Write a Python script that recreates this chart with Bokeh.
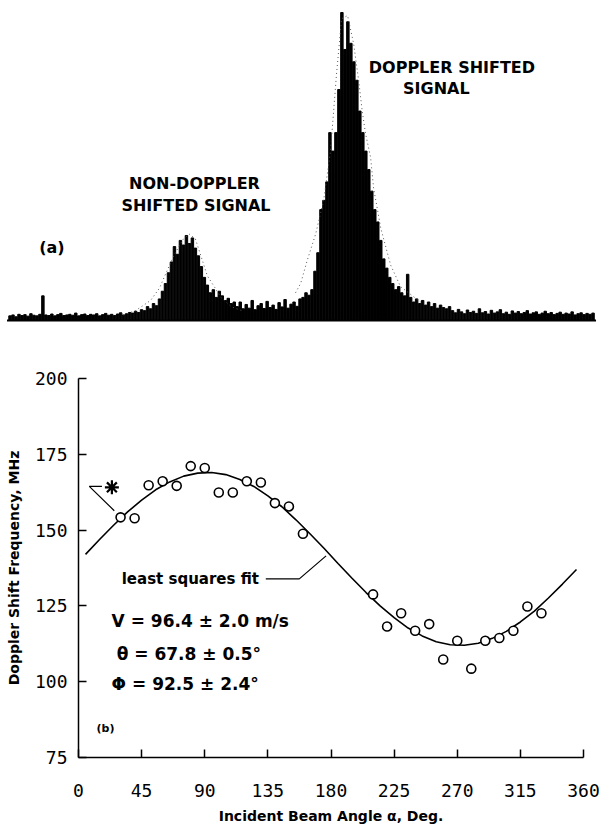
from bokeh.plotting import figure
from bokeh.models import ColumnDataSource, FixedTicker, Range1d
from bokeh.core.properties import value
from bokeh.embed import file_html
from bokeh.resources import INLINE

# ---------------- Panel (a): spectrum (relative intensity per channel) ----------------
spectrum = [
    1.5, 1.8, 1.2, 2.0, 1.6, 1.9, 1.4, 2.2, 1.7, 1.5, 2.0,
    8.0,
    1.8, 1.6, 2.1, 1.5, 1.9, 2.3, 1.6, 1.8, 2.0,
    1.7, 2.4, 1.5, 1.9, 2.1, 1.6, 2.0, 1.8, 2.2, 1.5,
    1.9, 2.3, 1.7, 2.0, 1.6, 2.1, 2.5, 1.8, 2.2, 2.6,
    2.4, 3.0, 2.6,
    3.5, 3.2, 4.5, 3.8, 5.5, 4.8, 7.0,
    9.5, 12.0, 15.5, 19.0,
    24.0, 21.5, 26.0, 24.5, 27.6, 25.0, 26.8, 23.5,
    21.0, 17.5, 14.0, 11.5,
    9.0, 10.0, 7.5, 9.5, 8.0,
    6.5, 7.2, 5.5, 6.0,
    4.5, 6.0, 3.8, 5.2, 4.0, 6.5, 3.5, 4.8, 5.5, 3.9, 6.2, 4.2, 5.0, 3.6, 5.8, 4.4,
    6.8, 4.0, 5.3, 6.0, 4.6, 7.0,
    7.5, 9.0, 8.2, 10.0,
    16.0, 22.0, 36.0, 39.0, 45.0, 61.0, 55.0, 61.0, 75.0,
    100.0, 88.0, 97.0,
    90.0, 84.0, 78.0, 68.0,
    61.0, 55.0, 49.0, 42.0, 36.0, 32.0,
    26.0, 20.0, 17.0, 14.0, 12.0,
    10.0, 11.0, 9.0, 8.0, 15.0,
    7.5, 6.0, 7.0, 5.5, 6.5, 5.0, 6.0, 4.5, 5.5, 4.0, 5.0, 4.2, 3.8, 4.5,
    3.2, 2.5, 3.6, 2.8, 2.2, 3.4, 2.6, 3.0, 2.3, 3.8, 2.5, 2.9, 2.1, 3.3, 2.4, 2.8,
    3.5, 2.2, 2.7, 2.0, 3.1, 2.4, 2.9, 2.2, 2.6, 3.2, 2.1, 2.5, 2.8, 2.0, 2.4, 3.0,
    2.2, 2.6, 1.9, 2.3, 2.7, 2.0, 2.4, 2.1, 2.8, 1.8, 2.2, 2.5, 1.9, 2.3, 2.0, 2.4,
]
channels = list(range(len(spectrum)))

# dotted envelopes (fitted profiles)
nd_env_ch = [38, 42, 47, 50, 52, 55, 58, 60, 62, 64, 66, 68.5, 70.5, 74, 78]
nd_env_val = [1.8, 3.2, 6.5, 10.5, 15.0, 21.5, 26.5, 28.0, 26.5, 20.5, 14.5, 10.7, 7.5, 4.5, 3.0]
d_env_ch = [95.5, 97.2, 99.4, 102.2, 104.9, 107.2, 109.2, 110.9, 112.9, 114.9, 116.6,
            117.8, 118.9, 120.6, 121.6, 124.0, 127.3, 130.6, 137.3]
d_env_val = [9.0, 12.0, 19.5, 28.0, 39.0, 55.0, 80.0, 98.0, 99.0, 90.0, 78.0,
             68.0, 60.7, 53.0, 43.0, 30.0, 18.0, 11.0, 6.0]

# ---------------- Panel (b): Doppler shift vs incident beam angle ----------------
angle = [30, 40, 50, 60, 70, 80, 90, 100, 110, 120, 130, 140, 150, 160,
         210, 220, 230, 240, 250, 260, 270, 280, 290, 300, 310, 320, 330]
freq = [154.2, 153.9, 164.8, 166.1, 164.6, 171.1, 170.5, 162.4, 162.4, 166.1, 165.7, 158.9, 157.8, 148.8,
        128.8, 118.2, 122.6, 116.8, 119.0, 107.3, 113.5, 104.3, 113.5, 114.4, 116.8, 124.8, 122.6]

fit_angle = [5, 15, 25, 35, 45, 55, 65, 75, 85, 95, 105, 115, 125, 135, 145, 155, 165, 175,
             185, 195, 205, 215, 225, 235, 245, 255, 265, 275, 285, 295, 305, 315, 325, 335, 345, 355]
fit_freq = [142.0, 146.9, 151.6, 156.0, 159.9, 163.3, 165.9, 167.8, 168.8, 169.0, 168.3, 166.7,
            164.4, 161.3, 157.7, 153.4, 148.8, 144.0, 139.0, 134.1, 129.4, 125.0, 121.1, 117.7,
            115.1, 113.2, 112.2, 112.0, 112.7, 114.3, 116.6, 119.7, 123.3, 127.6, 132.2, 137.0]

x_ticks = [0, 45, 90, 135, 180, 225, 270, 315, 360]
y_ticks = [75, 100, 125, 150, 175, 200]

BOLD = value("DejaVu Sans")

# ---------------- top figure ----------------
top = figure(width=602, height=340, output_backend="svg", toolbar_location=None,
             x_range=Range1d(-3.18, 198.16), y_range=Range1d(-6.5, 103.9),
             min_border=0, min_border_left=0, min_border_right=0,
             min_border_top=0, min_border_bottom=0)
top.axis.visible = False
top.grid.visible = False
top.outline_line_color = None

top.vbar(x=channels, top=spectrum, bottom=0, width=0.82, color="black")
top.line(x=[-1, 196], y=[0, 0], line_color="black", line_width=2)
top.line(x=nd_env_ch, y=nd_env_val, line_color="#555555", line_width=1, line_dash="1 3")
top.line(x=d_env_ch, y=d_env_val, line_color="#555555", line_width=1, line_dash="1 3")

top_labels = ColumnDataSource(dict(
    x=[14.0, 61.7, 62.2, 147.8, 142.6],
    y=[23.7, 44.5, 37.3, 82.1, 75.3],
    t=["(a)", "NON-DOPPLER", "SHIFTED SIGNAL", "DOPPLER SHIFTED", "SIGNAL"],
))
top.text(x="x", y="y", text="t", source=top_labels, text_font=BOLD, text_font_style="bold",
         text_font_size="16px", text_align="center", text_baseline="middle", text_color="black")

# ---------------- bottom figure ----------------
bot = figure(width=602, height=486, output_backend="svg", toolbar_location=None,
             x_range=Range1d(0, 360), y_range=Range1d(75, 200),
             min_border_left=78, min_border_right=19, min_border_top=38, min_border_bottom=0)
bot.grid.visible = False
bot.outline_line_color = None

for ax in (bot.xaxis[0], bot.yaxis[0]):
    ax.major_tick_in = 8
    ax.major_tick_out = 0
    ax.minor_tick_line_color = None
    ax.axis_line_color = "black"
    ax.axis_line_width = 1.5
    ax.major_tick_line_width = 1.5
    ax.major_label_text_font = "DejaVu Sans Mono"
    ax.major_label_text_font_size = "18px"
    ax.major_label_text_color = "black"
    ax.axis_label_text_font = "DejaVu Sans"
    ax.axis_label_text_font_style = "bold"
    ax.axis_label_text_font_size = "14px"
    ax.axis_label_text_color = "black"

bot.xaxis.ticker = FixedTicker(ticks=x_ticks)
bot.yaxis.ticker = FixedTicker(ticks=y_ticks)
bot.xaxis.major_label_standoff = 26
bot.xaxis.axis_label_standoff = 8
bot.yaxis.major_label_standoff = 11
bot.yaxis.axis_label_standoff = 10
bot.xaxis.axis_label = "Incident Beam Angle α, Deg."
bot.yaxis.axis_label = "Doppler Shift Frequency, MHz"

bot.line(x=fit_angle, y=fit_freq, line_color="black", line_width=1.6)
bot.scatter(x=angle, y=freq, marker="circle", size=9, fill_color="white",
            line_color="black", line_width=1.6)

# annotations
star_x = [23.8]
star_y = [164.1]
bot.scatter(x=star_x, y=star_y, marker="asterisk", size=14, line_color="black", line_width=2.2)
bot.line(x=[16.7, 7.7, 25.5], y=[164.4, 164.4, 156.4], line_color="black", line_width=1.2)
bot.line(x=[133.5, 157.4, 176.5], y=[133.9, 133.9, 141.5], line_color="black", line_width=1.2)

ann = ColumnDataSource(dict(
    x=[30.8, 23.6, 27.2, 23.6],
    y=[133.9, 120.1, 109.2, 99.3],
    t=["least squares fit", "V = 96.4 ± 2.0 m/s", "θ = 67.8 ± 0.5°", "Φ = 92.5 ± 2.4°"],
    s=["15px", "17px", "17px", "17px"],
))
bot.text(x="x", y="y", text="t", source=ann, text_font=BOLD, text_font_style="bold",
         text_font_size="s", text_align="left", text_baseline="middle", text_color="black")
bot.text(x=[12.9], y=[84.5], text=["(b)"], text_font=BOLD, text_font_style="bold",
         text_font_size="11px", text_align="left", text_baseline="middle", text_color="black")

open("out.html", "w").write(file_html([top, bot], INLINE))
